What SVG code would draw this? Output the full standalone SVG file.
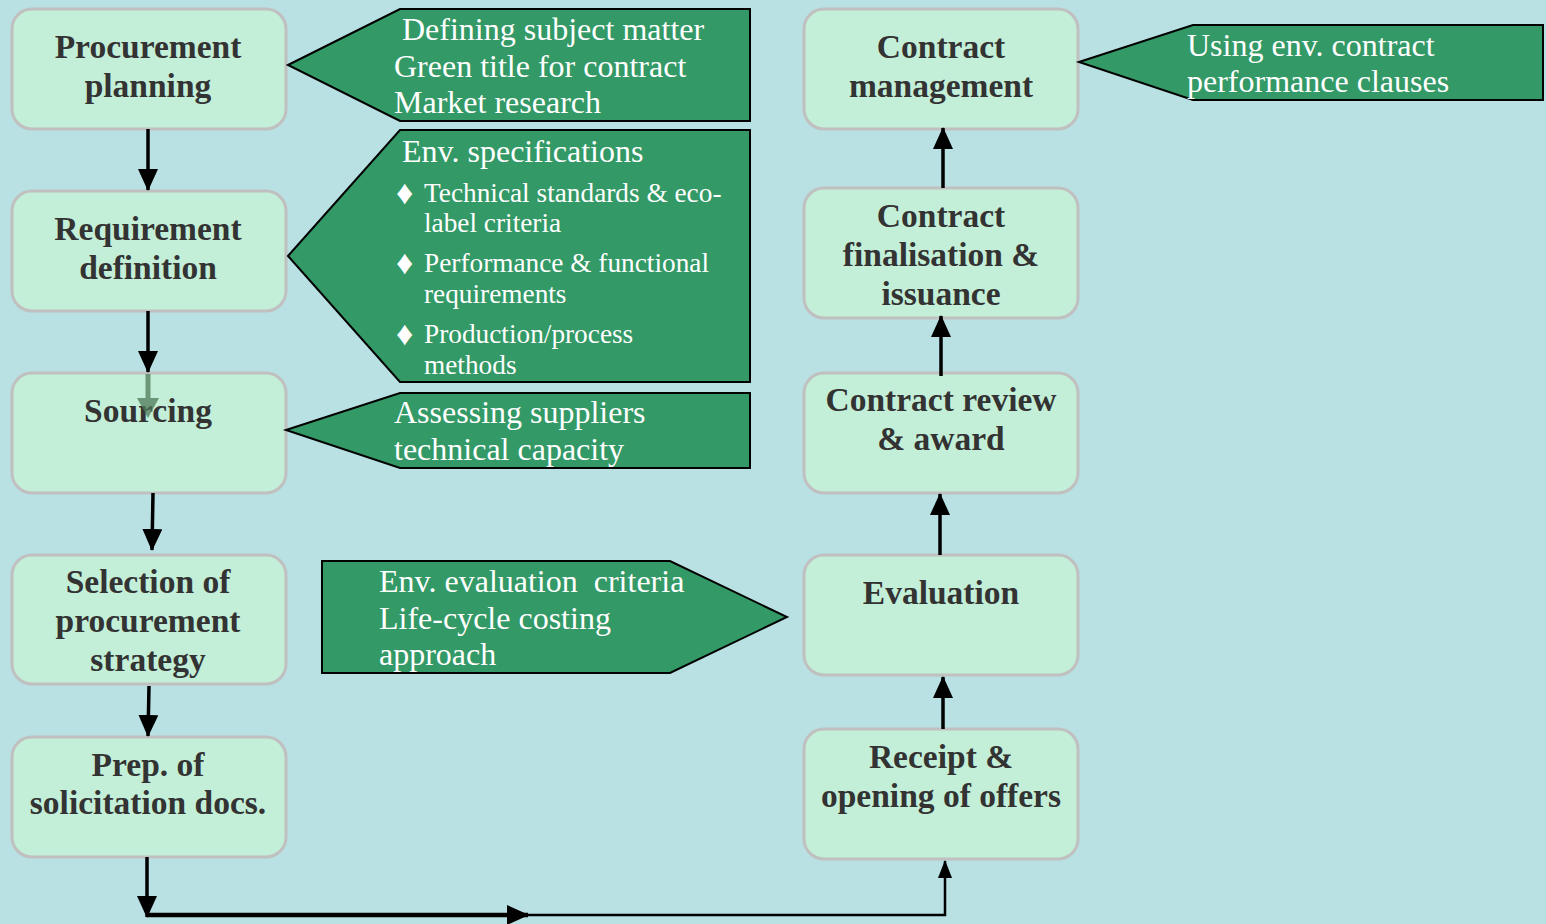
<svg xmlns="http://www.w3.org/2000/svg" width="1546" height="924" viewBox="0 0 1546 924">
<style>
.node rect{fill:#C3EFD8;stroke:#C0C0C0;stroke-width:3}
.node text{font-family:"Liberation Serif","Times New Roman",serif;font-weight:bold;font-size:33.5px;fill:#333333;text-anchor:middle}
.call polygon{fill:#339966;stroke:#000;stroke-width:2}
.call text{font-family:"Liberation Serif","Times New Roman",serif;font-size:32px;fill:#ffffff;white-space:pre}
.call text.s{font-size:27.3px}
.call text.b{font-size:34px}
.conn line,.conn path{stroke:#000;stroke-width:3.5;fill:none}
</style>
<defs>
<marker id="ah" markerUnits="userSpaceOnUse" markerWidth="22" markerHeight="20" refX="21" refY="10" orient="auto"><path d="M0,0 L22,10 L0,20 z" fill="#000"/></marker>
<marker id="ahs" markerUnits="userSpaceOnUse" markerWidth="18" markerHeight="14" refX="17" refY="7" orient="auto"><path d="M0,0 L18,7 L0,14 z" fill="#000"/></marker>
</defs>
<rect width="1546" height="924" fill="#B9E0E3"/>

<g id="n-planning" class="node"><rect x="12" y="9" width="274" height="120" rx="20"/><text x="148" y="58">Procurement</text><text x="148" y="97">planning</text></g>
<g id="n-requirement" class="node"><rect x="12" y="191" width="274" height="120" rx="20"/><text x="148" y="240">Requirement</text><text x="148" y="279">definition</text></g>
<g id="n-sourcing" class="node"><rect x="12" y="373" width="274" height="120" rx="20"/><text x="148" y="422">Sourcing</text></g>
<g id="n-selection" class="node"><rect x="12" y="555" width="274" height="129" rx="20"/><text x="148" y="593">Selection of</text><text x="148" y="632">procurement</text><text x="148" y="671">strategy</text></g>
<g id="n-prep" class="node"><rect x="12" y="737" width="274" height="120" rx="20"/><text x="148" y="776">Prep. of</text><text x="148" y="814">solicitation docs.</text></g>

<g id="n-management" class="node"><rect x="804" y="9" width="274" height="120" rx="20"/><text x="941" y="58">Contract</text><text x="941" y="97">management</text></g>
<g id="n-finalisation" class="node"><rect x="804" y="188" width="274" height="130" rx="20"/><text x="941" y="227">Contract</text><text x="941" y="266">finalisation &amp;</text><text x="941" y="305">issuance</text></g>
<g id="n-review" class="node"><rect x="804" y="373" width="274" height="120" rx="20"/><text x="941" y="411">Contract review</text><text x="941" y="450">&amp; award</text></g>
<g id="n-evaluation" class="node"><rect x="804" y="555" width="274" height="120" rx="20"/><text x="941" y="604">Evaluation</text></g>
<g id="n-receipt" class="node"><rect x="804" y="729" width="274" height="130" rx="20"/><text x="941" y="768">Receipt &amp;</text><text x="941" y="807">opening of offers</text></g>

<g id="c-planning" class="call"><polygon points="288,65 400,9 750,9 750,121 400,121"/><text x="402" y="40">Defining subject matter</text><text x="394" y="77">Green title for contract</text><text x="394" y="113">Market research</text></g>
<g id="c-requirement" class="call"><polygon points="288,256 400,130 750,130 750,382 400,382"/><text x="402" y="162">Env. specifications</text>
<text class="b" x="396" y="204">♦</text><text class="s" x="424" y="202">Technical standards &amp; eco-</text><text class="s" x="424" y="232">label criteria</text>
<text class="b" x="396" y="274">♦</text><text class="s" x="424" y="272">Performance &amp; functional</text><text class="s" x="424" y="303">requirements</text>
<text class="b" x="396" y="345">♦</text><text class="s" x="424" y="343">Production/process</text><text class="s" x="424" y="374">methods</text></g>
<g id="c-sourcing" class="call"><polygon points="286,430 400,393 750,393 750,468 400,468"/><text x="394" y="423">Assessing suppliers</text><text x="394" y="460">technical capacity</text></g>
<g id="c-evaluation" class="call"><polygon points="322,561 670,561 787,617 670,673 322,673"/><text x="379" y="592" xml:space="preserve">Env. evaluation  criteria</text><text x="379" y="629">Life-cycle costing</text><text x="379" y="665">approach</text></g>
<g id="c-management" class="call"><polygon points="1079,62 1193,25 1543,25 1543,100 1193,100"/><text x="1187" y="56">Using env. contract</text><text x="1187" y="92">performance clauses</text></g>

<g id="connectors" class="conn">
<line x1="148" y1="129" x2="148" y2="190" marker-end="url(#ah)"/>
<line x1="148" y1="311" x2="148" y2="372" marker-end="url(#ah)"/>
<line x1="153" y1="493" x2="152" y2="550" marker-end="url(#ah)"/>
<line x1="149" y1="686" x2="148" y2="736" marker-end="url(#ah)"/>
<line x1="147" y1="857" x2="147" y2="917" marker-end="url(#ah)"/>
<line x1="147" y1="915" x2="528" y2="915" style="stroke-width:4.5" marker-end="url(#ah)"/>
<path d="M520,915 L945,915 L945,861" style="stroke-width:2.5" marker-end="url(#ahs)"/>
<line x1="943" y1="729" x2="943" y2="677" marker-end="url(#ah)"/>
<line x1="940" y1="555" x2="940" y2="494" marker-end="url(#ah)"/>
<line x1="941" y1="376" x2="941" y2="316" marker-end="url(#ah)"/>
<line x1="943" y1="188" x2="943" y2="128" marker-end="url(#ah)"/>
<g opacity="0.75"><line x1="148" y1="374" x2="148" y2="400" style="stroke:#4E7A58;stroke-width:5"/><path d="M137,398 L159,398 L148,418 z" style="fill:#4E7A58;stroke:none"/></g>
</g>
</svg>
